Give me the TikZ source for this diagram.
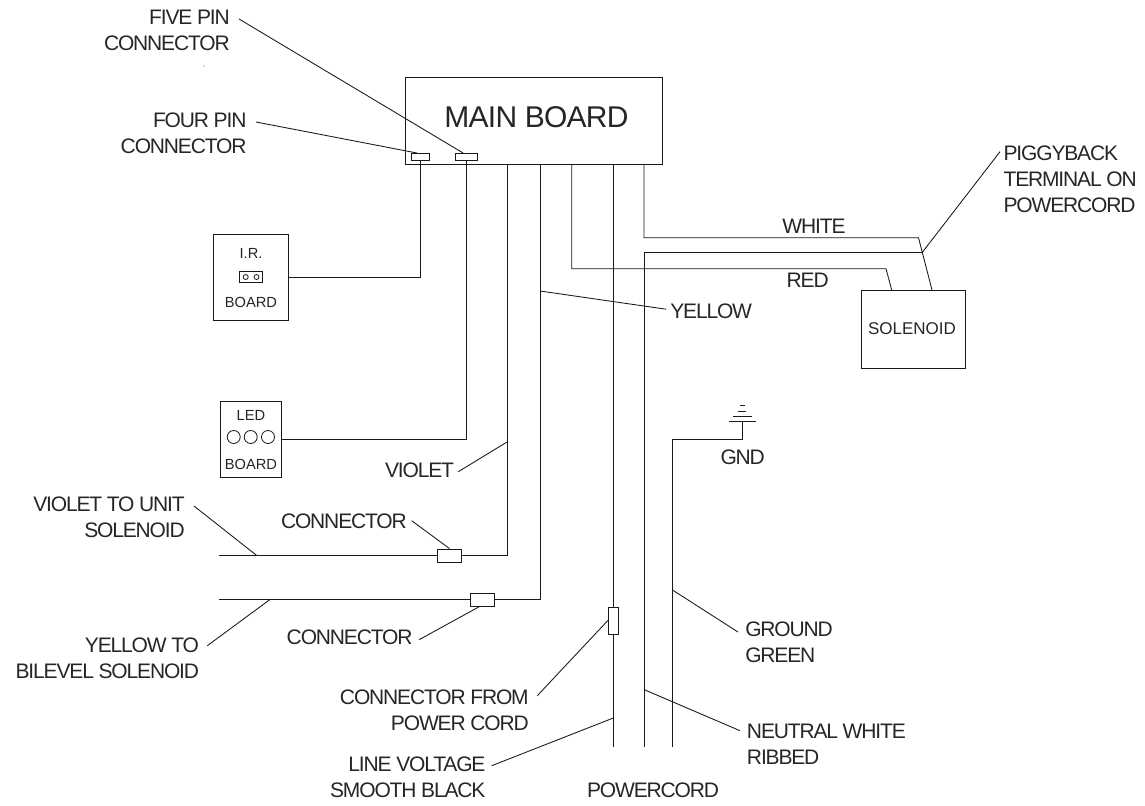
\documentclass[tikz,border=0pt]{standalone}
\usepackage{fontspec}
\setmainfont{Liberation Sans}
\newfontfamily\labelFont[LetterSpace=-5.5]{Liberation Sans}
\newfontfamily\titleFont[LetterSpace=-2.5]{Liberation Sans}
\usepackage{xcolor}
\colorlet{WIRECOLOR}{black!90}
\colorlet{TEXTCOLOR}{black!85}
\usetikzlibrary{positioning,calc}
\newlength\unitPx
\setlength\unitPx{0.75pt}
\tikzset{
  wire-style/.style = {
    draw=WIRECOLOR, line width=0.65pt
  },
  box-style/.style = {
    rectangle, draw=WIRECOLOR, line width=0.65pt, fill=white,
    inner sep=0pt
  },
  pin-style/.style = {
    box-style, minimum width=#1\unitPx, minimum height=7\unitPx
  },
  plug-style/.style = {
    box-style, minimum width=#1\unitPx, minimum height=13\unitPx
  },
  label-style/.style = {
    inner sep=0pt, text=TEXTCOLOR, align=#1,
    font=\labelFont\fontsize{15.75}{19.5}\selectfont
  },
  label-style/.default = center,
  small-style/.style = {
    inner sep=0pt, text=TEXTCOLOR,
    font=\fontsize{#1}{12}\selectfont
  },
  small-style/.default = 11,
  lamp-style/.style = {
    circle, draw=WIRECOLOR, line width=0.6pt, inner sep=0pt,
    minimum size=#1\unitPx
  }
}
\begin{document}
\begin{tikzpicture}[x=0.75pt,y=-0.75pt]
  \useasboundingbox (0,0) rectangle (1145,806);

  % boards
  \node [box-style, minimum width=257\unitPx, minimum height=87\unitPx] (main) at (533.5,120.5) {};
  \node [font=\titleFont\fontsize{22.5}{24}\selectfont, text=TEXTCOLOR, inner sep=0pt] (mainText) at (536.5,117) {MAIN BOARD};
  \node [box-style, minimum width=75.5\unitPx, minimum height=86\unitPx] (irBoard) at (250.8,277.8) {};
  \node [box-style, minimum width=61.5\unitPx, minimum height=76\unitPx] (ledBoard) at (251,439) {};
  \node [box-style, minimum width=103.5\unitPx, minimum height=78\unitPx] (solenoid) at (913.25,329) {};

  \node [small-style] (irText) at (251,253) {I.R.};
  \node [small-style] (irBoardText) at (251,302) {BOARD};
  \node [box-style, minimum width=23\unitPx, minimum height=11\unitPx] (irJack) at (250.8,277) {};
  \foreach \name/\x in {jackA/245.7,jackB/256.5}
    \node [lamp-style=5] (\name) at (\x,277) {};
  \node [small-style] (ledText) at (251,415) {LED};
  \node [small-style] (ledBoardText) at (251,464) {BOARD};
  \foreach \name/\x in {lampA/233.7,lampB/250.7,lampC/268}
    \node [lamp-style=13] (\name) at (\x,437) {};
  \node [small-style=12.75] (solenoidText) at (912,329) {SOLENOID};

  % connectors
  \node [pin-style=17.5] (fourPin) at (420.2,157) {};
  \node [pin-style=21.5] (fivePin) at (466.2,157) {};
  \node [plug-style=24] (violetPlug) at (449.5,555.5) {};
  \node [plug-style=24] (yellowPlug) at (482.7,599.5) {};
  \node [box-style, minimum width=10\unitPx, minimum height=27\unitPx] (linePlug) at (613.3,620.5) {};

  % ends of wires
  \coordinate (violetTop) at (507.5,164);
  \coordinate (yellowTop) at (540,164);
  \coordinate (redTop) at (571.7,164);
  \coordinate (lineTop) at (613.3,164);
  \coordinate (whiteTop) at (644,164);
  \coordinate (violetEnd) at (219,555.5);
  \coordinate (yellowEnd) at (219,599.5);
  \coordinate (lineEnd) at (613.3,747);
  \coordinate (neutralEnd) at (644,747);
  \coordinate (groundEnd) at (672.5,747);
  \coordinate (redBend) at (886,268.7);
  \coordinate (redFoot) at (891.7,290);
  \coordinate (whiteBend) at (918.5,237.7);
  \coordinate (whiteFoot) at (932,290);
  \coordinate (neutralBend) at (922,252.7);
  \coordinate (gndPost) at (742.3,421);

  \draw [wire-style] (fourPin.south) |- (irBoard.east);
  \draw [wire-style] (fivePin.south) |- (ledBoard.east);
  \draw [wire-style] (violetTop) |- (violetPlug.east);
  \draw [wire-style] (violetPlug.west) -- (violetEnd);
  \draw [wire-style] (yellowTop) |- (yellowPlug.east);
  \draw [wire-style] (yellowPlug.west) -- (yellowEnd);
  \draw [wire-style] (redTop) |- (redBend) -- (redFoot);
  \draw [wire-style] (lineTop) -- (linePlug.north);
  \draw [wire-style] (linePlug.south) -- (lineEnd);
  \draw [wire-style] (whiteTop) |- (whiteBend) -- (whiteFoot);
  \draw [wire-style] (neutralEnd) |- (neutralBend);
  \draw [wire-style] (groundEnd) |- (gndPost |- 0,439) -- (gndPost);
  \foreach \y/\half in {421/13.5,416.7/9.5,411/4,405/2.5}
    \draw [wire-style] ($(gndPost |- 0,\y)+(-\half,0)$) -- ($(gndPost |- 0,\y)+(\half,0)$);

  % labels
  \node [label-style=right, anchor=north east] (fiveLabel) at (230,10) {FIVE PIN\\CONNECTOR};
  \node [label-style=right, anchor=north east] (fourLabel) at (246.7,113) {FOUR PIN\\CONNECTOR};
  \node [label-style=left, anchor=north west] (pigLabel) at (1003.3,146) {PIGGYBACK\\TERMINAL ON\\POWERCORD};
  \node [label-style] (whiteLabel) at (814,226) {WHITE};
  \node [label-style] (redLabel) at (807.7,280) {RED};
  \node [label-style, anchor=west] (yellowLabel) at (670,311.7) {YELLOW};
  \node [label-style] (gndLabel) at (742.7,457.3) {GND};
  \node [label-style, anchor=east] (violetLabel) at (454.3,470.7) {VIOLET};
  \node [label-style=right, anchor=north east] (unitLabel) at (185,497) {VIOLET TO UNIT\\SOLENOID};
  \node [label-style, anchor=east] (plugLabelA) at (407,521.7) {CONNECTOR};
  \node [label-style, anchor=east] (plugLabelB) at (412.7,637.3) {CONNECTOR};
  \node [label-style=right, anchor=north east] (bilevelLabel) at (199.3,638) {YELLOW TO\\BILEVEL SOLENOID};
  \node [label-style=left, anchor=north west] (greenLabel) at (745,621.5) {GROUND\\GREEN};
  \node [label-style=right, anchor=north east] (cordLabel) at (529,690) {CONNECTOR FROM\\POWER CORD};
  \node [label-style=left, anchor=north west] (neutralLabel) at (746.7,724) {NEUTRAL WHITE\\RIBBED};
  \node [label-style=right, anchor=north east] (lineLabel) at (485.7,756.5) {LINE VOLTAGE\\SMOOTH BLACK};
  \node [label-style] (powerLabel) at (653,790) {POWERCORD};

  % leader lines
  \coordinate (fiveFree) at (239,19);
  \coordinate (fourFree) at (256,122);
  \coordinate (pigFree) at (1000,151.7);
  \coordinate (unitFree) at (194,506);
  \coordinate (bilevelFree) at (207.3,645.7);
  \coordinate (greenFree) at (738,632);
  \coordinate (cordFree) at (537.3,695.7);
  \coordinate (neutralFree) at (740,730.7);
  \coordinate (lineFree) at (491.7,765.7);
  \draw [wire-style] (fiveFree) -- ([xshift=-3\unitPx]fivePin.north);
  \draw [wire-style] (fourFree) -- ([xshift=-3\unitPx]fourPin.north);
  \draw [wire-style] (pigFree) -- (neutralBend);
  \draw [wire-style] (unitFree) -- (256.7,555.5);
  \draw [wire-style] (bilevelFree) -- (270,599.5);
  \draw [wire-style] (greenFree) -- (672.5,590);
  \draw [wire-style] (cordFree) -- (linePlug.west);
  \draw [wire-style] (neutralFree) -- (645,690);
  \draw [wire-style] (lineFree) -- (613.3,718);
  \draw [wire-style] ([xshift=-4\unitPx,yshift=2.5\unitPx]yellowLabel.west) -- (540,291);
  \draw [wire-style] ([xshift=4\unitPx,yshift=-1\unitPx]violetLabel.east) -- (507.5,441.7);
  \draw [wire-style] ([xshift=4.7\unitPx,yshift=1\unitPx]plugLabelA.east) -- (violetPlug.north);
  \draw [wire-style] ([xshift=6.6\unitPx,yshift=-2.3\unitPx]plugLabelB.east) -- ([xshift=-3\unitPx]yellowPlug.south);

  \fill [WIRECOLOR] (204,66) circle (0.5);
\end{tikzpicture}
\end{document}
